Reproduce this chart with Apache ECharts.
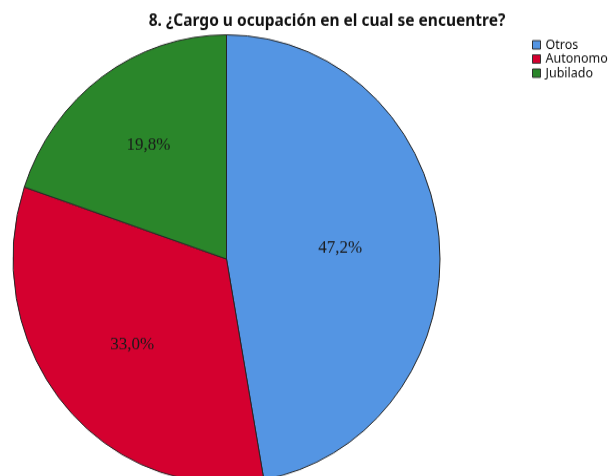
<!DOCTYPE html>
<html>
<head>
<meta charset="utf-8">
<script src="https://cdn.jsdelivr.net/npm/echarts@6/dist/echarts.min.js"></script>
<style>
  html, body { margin: 0; padding: 0; background: #fff; }
  /* the SPSS pie is slightly taller than wide, so stretch the canvas a bit */
  #chart { width: 611px; height: 476px; transform: scaleY(1.05); transform-origin: 226.5px 259px; }
</style>
</head>
<body>
<div id="chart"></div>
<script>
var categories = ['Otros', 'Autonomo', 'Jubilado'];
var values = [47.2, 33.0, 19.8];
var colors = ['#5495e3', '#d4002f', '#2a862a'];

// centre of the pie and vertical stretch applied by css
var cx = 226.5, cy = 259, sy = 1.05;
// turn a wanted on-screen y into the y before the stretch
function preY(y) { return cy + (y - cy) / sy; }

// how far out each label sits (share of the radius)
var labelFrac = [0.52, 0.567, 0.61];

var myChart = echarts.init(document.getElementById('chart'));

var pieData = [];
for (var i = 0; i < categories.length; i++) {
    pieData.push({ name: categories[i], value: values[i], itemStyle: { color: colors[i] } });
}

var option = {
    animation: false,
    title: {
        text: '8. ¿Cargo u ocupación en el cual se encuentre?',
        left: 327,
        top: preY(13),
        textAlign: 'center',
        padding: 0,
        textStyle: {
            fontFamily: 'Noto Sans',
            fontSize: 15.5,
            fontWeight: 'bold',
            color: '#111'
        }
    },
    legend: {
        orient: 'vertical',
        left: 532,
        top: preY(38),
        padding: 0,
        itemWidth: 8,
        itemHeight: 8,
        itemGap: 0.5,
        icon: 'rect',
        data: categories,
        itemStyle: { borderColor: '#333', borderWidth: 1 },
        textStyle: { fontFamily: 'Noto Sans', fontSize: 12.5, color: '#111' }
    },
    series: [
        {
            type: 'pie',
            center: [cx, cy],
            radius: 213.5,
            startAngle: 90,
            clockwise: true,
            avoidLabelOverlap: false,
            itemStyle: { borderColor: '#262626', borderWidth: 1 },
            label: {
                position: 'inside',
                fontFamily: 'Liberation Serif',
                fontSize: 17,
                color: '#1a1a1a',
                formatter: function (p) {
                    return p.value.toFixed(1).replace('.', ',') + '%';
                }
            },
            labelLine: { show: false },
            emphasis: { disabled: true },
            labelLayout: function (p) {
                var r = p.labelRect;
                var lx = r.x + r.width / 2, ly = r.y + r.height / 2;
                var k = labelFrac[p.dataIndex] / 0.5 - 1;
                return { dx: (lx - cx) * k, dy: (ly - cy) * k };
            },
            data: pieData
        }
    ]
};

myChart.setOption(option);
</script>
</body>
</html>
